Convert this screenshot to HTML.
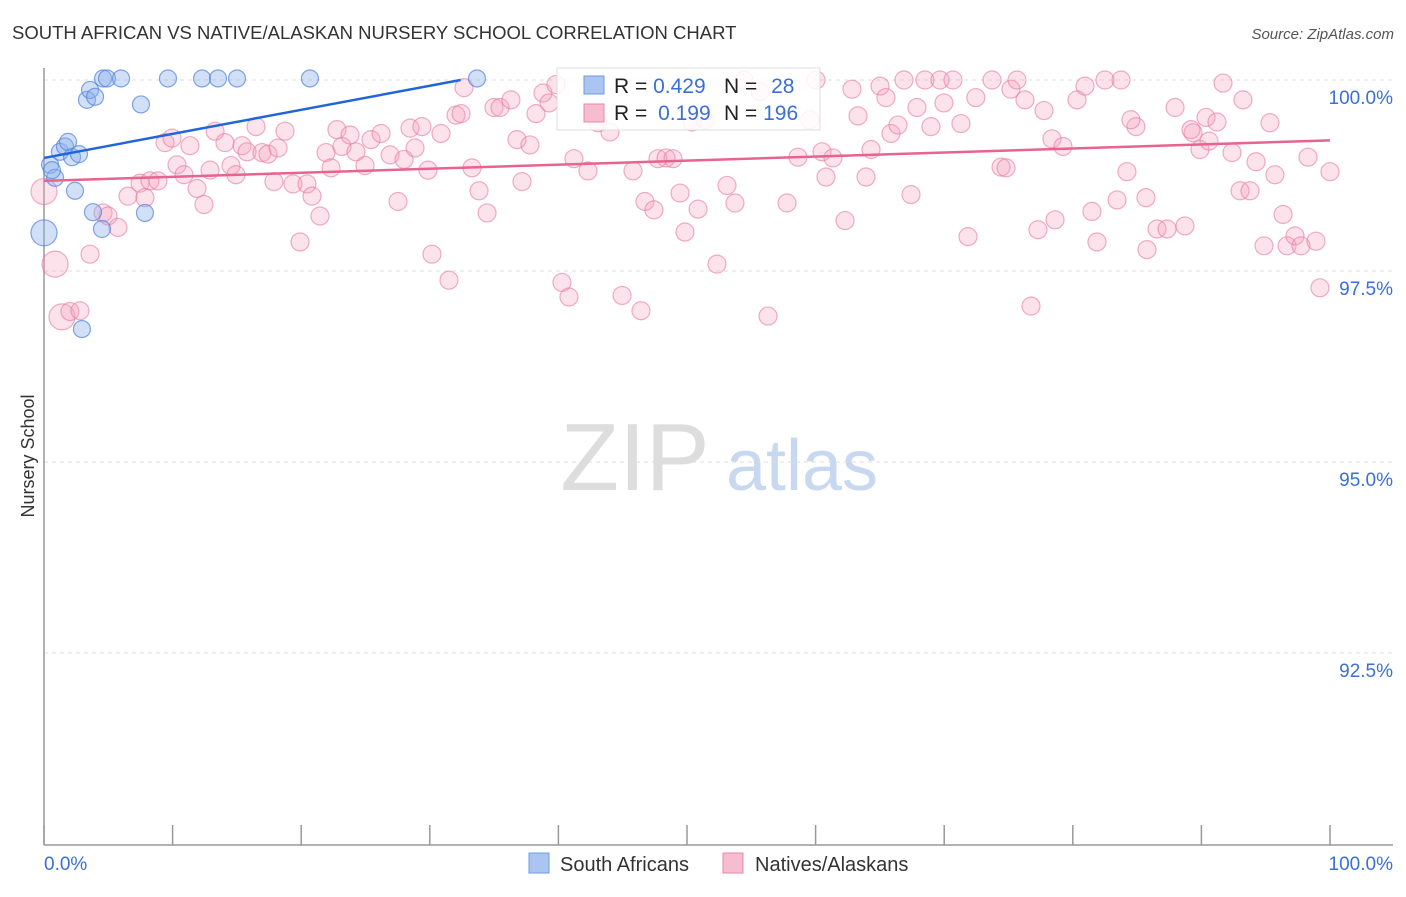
<!DOCTYPE html>
<html><head><meta charset="utf-8"><style>
body{margin:0;background:#fff;font-family:"Liberation Sans",sans-serif;}
svg text{font-family:"Liberation Sans",sans-serif;}
</style></head><body>
<svg id="c" width="1406" height="892" viewBox="0 0 1406 892">
<text x="12" y="39" font-size="18.5" fill="#333">SOUTH AFRICAN VS NATIVE/ALASKAN NURSERY SCHOOL CORRELATION CHART</text>
<text x="1394" y="39" font-size="15" fill="#555" font-style="italic" text-anchor="end">Source: ZipAtlas.com</text>
<text x="0" y="0" transform="translate(34,456) rotate(-90)" font-size="18" fill="#333" text-anchor="middle">Nursery School</text>
<g><text x="635" y="490" font-size="96" fill="#ddd" font-family="Liberation Serif" text-anchor="middle">ZIP</text><text x="802" y="490" font-size="72" fill="#c8d8f0" text-anchor="middle">atlas</text></g>
<g id="grid"></g><g id="marks"></g><g id="trend"></g>
<g>
<rect x="557" y="68" width="263" height="62" fill="rgba(255,255,255,0.85)" stroke="#ddd"/>
<rect x="584" y="76" width="20" height="18" fill="#aac6f0" stroke="#6f9be0"/>
<rect x="584" y="104" width="20" height="18" fill="#f8bcd0" stroke="#e889a8"/>
<text x="614" y="93" font-size="21" fill="#222">R = <tspan fill="#3a6fd8">0.429</tspan></text>
<text x="724" y="93" font-size="21" fill="#222">N = <tspan dx="8" fill="#3a6fd8">28</tspan></text>
<text x="614" y="120" font-size="21" fill="#222">R = <tspan dx="5" fill="#3a6fd8">0.199</tspan></text>
<text x="724" y="120" font-size="21" fill="#222">N = <tspan fill="#3a6fd8">196</tspan></text>
</g>
<g>
<rect x="529" y="853" width="20" height="20" fill="#aac6f0" stroke="#6f9be0"/>
<text x="560" y="871" font-size="20" fill="#333">South Africans</text>
<rect x="723" y="853" width="20" height="20" fill="#f8bcd0" stroke="#e889a8"/>
<text x="755" y="871" font-size="20" fill="#333">Natives/Alaskans</text>
</g>
</svg>
<script>
const yTicks=[100,97.5,95,92.5];
const yTickLabels=["100.0%","97.5%","95.0%","92.5%"];
const xTicks=[0,10,20,30,40,50,60,70,80,90,100];
const xEndLabels=["0.0%","100.0%"];
const blueX=[0.47,0.86,1.24,1.63,1.87,2.18,2.72,2.41,3.34,3.58,3.97,3.81,4.51,4.59,4.9,5.99,7.54,7.85,9.64,12.29,13.53,15.01,20.68,33.67,2.95,0,0.62];
const blueY=[98.89,98.72,99.06,99.13,99.19,98.99,99.03,98.55,99.74,99.87,99.78,98.27,98.05,100.02,100.02,100.02,99.68,98.26,100.02,100.02,100.02,100.02,100.02,100.02,96.74,98.00,98.82];
const pinkX=[0,0.86,1.4,2.02,2.8,3.58,4.59,4.98,5.75,6.53,7.47,7.85,8.24,8.86,9.41,9.95,10.34,10.89,11.35,11.9,12.44,12.91,13.3,14.07,14.54,14.93,15.4,15.79,16.49,16.95,17.42,17.88,18.2,18.74,19.36,19.91,20.45,20.84,21.46,21.93,22.32,22.78,23.17,23.8,24.26,24.96,25.43,26.21,26.91,27.53,28,28.46,28.85,29.39,29.86,30.17,30.87,31.49,32.04,32.43,32.66,33.28,33.83,34.45,34.99,35.46,36.31,36.78,37.17,37.79,38.26,38.8,39.27,39.81,40.28,40.82,41.21,42.3,43.08,44.01,44.95,45.8,46.42,46.73,47.43,47.74,48.37,48.91,49.46,49.84,50.39,50.86,51.4,52.33,53.11,53.73,54.43,55.68,56.3,57.78,58.63,59.56,60.03,60.5,60.81,61.35,62.29,62.83,63.3,63.92,64.31,65.01,65.47,65.86,66.41,66.87,67.42,67.88,68.5,68.97,69.67,69.98,70.68,71.3,71.85,72.46,73.72,75.19,75.66,76.28,76.75,77.29,77.76,78.38,79.24,80.33,80.95,81.49,81.88,82.5,83.44,83.75,84.21,84.91,85.77,86.55,87.33,87.95,88.72,89.35,89.89,90.36,91.21,91.68,92.38,93.0,93.78,94.25,94.87,95.72,96.35,96.66,97.28,97.74,98.29,98.91,99.22,100,93.23,95.33,90.59,74.42,74.81,84.52,89.19,85.69,78.62];
const pinkY=[98.54,97.59,96.90,96.97,96.98,97.72,98.26,98.22,98.07,98.48,98.65,98.46,98.68,98.68,99.18,99.24,98.89,98.76,99.14,98.58,98.37,98.82,99.33,99.18,98.88,98.76,99.14,99.06,99.39,99.05,99.03,98.67,99.11,99.33,98.64,97.88,98.64,98.48,98.22,99.05,98.85,99.35,99.13,99.28,99.06,98.88,99.22,99.30,99.02,98.41,98.96,99.37,99.11,99.39,98.82,97.72,99.30,97.38,99.54,99.56,99.90,98.85,98.55,98.26,99.64,99.64,99.74,99.22,98.67,99.15,99.56,99.83,99.70,99.94,97.35,97.16,98.97,98.81,99.44,99.32,97.18,98.81,96.98,98.41,98.30,98.97,98.98,98.97,98.52,98.01,99.45,98.31,99.48,97.59,98.62,98.39,100.00,99.85,96.91,98.39,98.99,99.48,100.00,99.06,98.73,98.98,98.16,99.88,99.53,98.73,99.09,99.92,99.77,99.30,99.41,100.00,98.50,99.64,100.00,99.39,100.00,99.70,100.00,99.43,97.95,99.77,100.00,99.88,100.00,99.74,97.04,98.04,99.60,99.23,99.13,99.74,99.92,98.28,97.88,100.00,98.43,100.00,98.80,99.39,97.78,98.05,98.05,99.64,98.09,99.31,99.09,99.51,99.45,99.96,99.05,98.55,98.55,98.93,97.83,98.76,98.24,97.83,97.96,97.83,98.99,97.89,97.28,98.80,99.74,99.44,99.20,98.86,98.85,99.48,99.35,98.46,98.17];
const blueTrendX=[0,32.4];
const blueTrendY=[98.98,100.0];
const pinkTrendX=[0,100];
const pinkTrendY=[98.68,99.21];
const NS="http://www.w3.org/2000/svg";
const xs=v=>44+v*12.86;
const ys=v=>80+(100-v)*76.4;
function mk(tag,attrs,parent){const e=document.createElementNS(NS,tag);for(const k in attrs)e.setAttribute(k,attrs[k]);parent.appendChild(e);return e;}
const grid=document.getElementById('grid');
yTicks.forEach((t,i)=>{
 const l=mk('line',{x1:44,x2:1393,y1:ys(t),y2:ys(t),stroke:'#ddd','stroke-dasharray':'4,4'},grid);
 
 
 const tx=mk('text',{x:1393,y:ys(t)+24,'font-size':19,fill:'#3a6fd8','text-anchor':'end'},grid);
 tx.textContent=yTickLabels[i];
 
 
});
const ax=mk('line',{x1:44,x2:44,y1:68,y2:845,stroke:'#999','stroke-width':1.5},grid);


const bx=mk('line',{x1:44,x2:1393,y1:845,y2:845,stroke:'#999','stroke-width':1.5},grid);


xTicks.forEach(t=>{
 const l=mk('line',{x1:xs(t),x2:xs(t),y1:825,y2:845,stroke:'#999','stroke-width':1.5},grid);
 
 
});
[[0,'start',44],[100,'end',1393]].forEach((d,i)=>{
 const tx=mk('text',{x:d[2],y:870,'font-size':19,fill:'#3a6fd8','text-anchor':d[1]},grid);
 tx.textContent=xEndLabels[i];
 
 
});
const marks=document.getElementById('marks');
pinkX.forEach((x,i)=>{
 const c=mk('circle',{cx:xs(x),cy:ys(pinkY[i]),r:i<3?13:9,fill:'rgba(244,160,190,0.3)',stroke:'rgba(230,120,160,0.6)','stroke-width':1.2},marks);
 
 
});
blueX.forEach((x,i)=>{
 const c=mk('circle',{cx:xs(x),cy:ys(blueY[i]),r:i==25?13:8.5,fill:'rgba(140,175,235,0.4)',stroke:'rgba(80,130,220,0.7)','stroke-width':1.2},marks);
 
 
});
const tr=document.getElementById('trend');
const bl=mk('line',{x1:xs(blueTrendX[0]),y1:ys(blueTrendY[0]),x2:xs(blueTrendX[1]),y2:ys(blueTrendY[1]),stroke:'#2166d8','stroke-width':2.5},tr);


const pl=mk('line',{x1:xs(pinkTrendX[0]),y1:ys(pinkTrendY[0]),x2:xs(pinkTrendX[1]),y2:ys(pinkTrendY[1]),stroke:'#e8638f','stroke-width':2.5},tr);


</script>
</body></html>
